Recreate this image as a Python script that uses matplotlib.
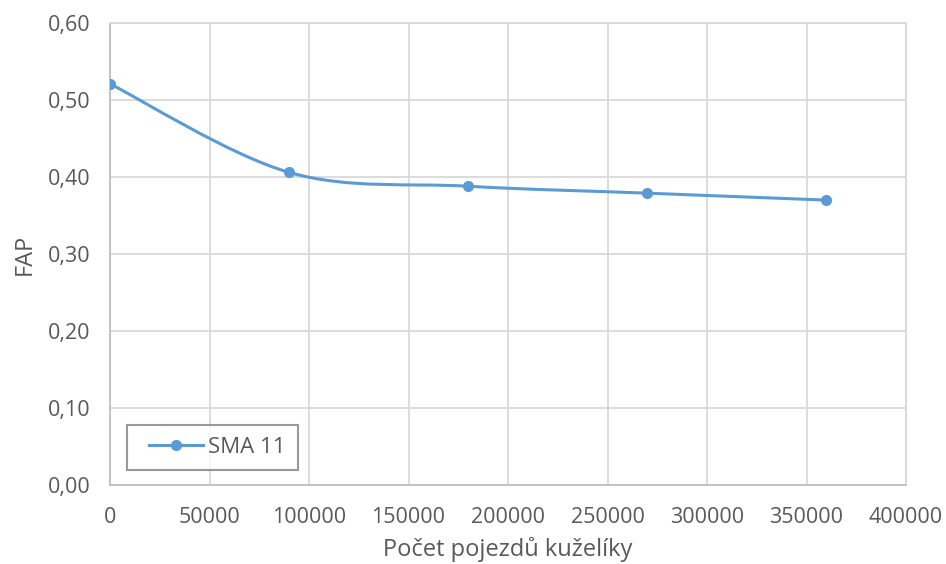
import matplotlib
matplotlib.use('Agg')
import matplotlib.pyplot as plt
from matplotlib.path import Path
from matplotlib.patches import PathPatch
from matplotlib.legend_handler import HandlerLine2D
from matplotlib.ticker import FuncFormatter, MultipleLocator

plt.rcParams['font.family'] = ['Open Sans', 'DejaVu Sans']

# pocet pojezdu vs FAP
rides = [0, 90000, 180000, 270000, 360000]
fap = [0.521, 0.406, 0.388, 0.379, 0.370]
series_name = 'SMA 11'

line_color = '#5b9bd5'
text_color = '#595959'
grid_color = '#d9d9d9'


def smooth_path(xs, ys):
    # Excel-like smoothed line: cubic bezier segments with catmull-rom control points
    pts = list(zip(xs, ys))
    verts = [pts[0]]
    codes = [Path.MOVETO]
    n = len(pts)
    for i in range(n - 1):
        p0 = pts[i - 1] if i > 0 else pts[i]
        p1 = pts[i]
        p2 = pts[i + 1]
        p3 = pts[i + 2] if i + 2 < n else pts[i + 1]
        c1 = (p1[0] + (p2[0] - p0[0]) / 6, p1[1] + (p2[1] - p0[1]) / 6)
        c2 = (p2[0] - (p3[0] - p1[0]) / 6, p2[1] - (p3[1] - p1[1]) / 6)
        verts += [c1, c2, p2]
        codes += [Path.CURVE4] * 3
    return Path(verts, codes)


class PaddedLineHandler(HandlerLine2D):
    # leaves some empty room left of the legend line
    def __init__(self, pad, **kw):
        super().__init__(**kw)
        self.pad = pad

    def create_artists(self, legend, orig_handle, xdescent, ydescent,
                       width, height, fontsize, trans):
        return super().create_artists(legend, orig_handle, xdescent - self.pad,
                                      ydescent, width - self.pad, height,
                                      fontsize, trans)


fig = plt.figure(figsize=(9.46, 5.64), dpi=100)
ax = fig.add_axes([110 / 946, 1 - 485 / 564, 796 / 946, 462 / 564])

ax.add_patch(PathPatch(smooth_path(rides, fap), facecolor='none',
                       edgecolor=line_color, linewidth=2.2, zorder=3))
ax.plot(rides, fap, linestyle='none', marker='o', markersize=7,
        color=line_color, zorder=4)
# legend entry
leg_line, = ax.plot([], [], color=line_color, linewidth=2.2, marker='o',
                    markersize=7, label=series_name)

ax.set_xlim(0, 400000)
ax.set_ylim(0, 0.6)
ax.xaxis.set_major_locator(MultipleLocator(50000))
ax.yaxis.set_major_locator(MultipleLocator(0.1))
ax.yaxis.set_major_formatter(FuncFormatter(lambda v, p: f'{v:.2f}'.replace('.', ',')))
ax.xaxis.set_major_formatter(FuncFormatter(lambda v, p: f'{v:.0f}'))

ax.grid(True, color=grid_color, linewidth=1.3)
ax.set_axisbelow(True)
for s in ax.spines.values():
    s.set_color(grid_color)
    s.set_linewidth(1.3)
ax.spines['left'].set_color('#bfbfbf')
ax.spines['bottom'].set_color('#bfbfbf')

ax.tick_params(length=0, labelsize=15.5, colors=text_color)
ax.tick_params(axis='y', pad=14)
ax.tick_params(axis='x', pad=16)

ax.set_xlabel('Počet pojezdů kuželíky', fontsize=17, color=text_color, labelpad=6)
ax.set_ylabel('FAP', fontsize=17, color=text_color, labelpad=8)

leg = ax.legend(handler_map={leg_line: PaddedLineHandler(7.5)},
                loc='lower left', bbox_to_anchor=(0.021, 0.032), borderaxespad=0,
                fontsize=16, handlelength=2.9, handletextpad=0.2,
                borderpad=0.55, fancybox=False, labelcolor=text_color)
leg.get_frame().set_edgecolor('#808080')
leg.get_frame().set_linewidth(1.5)

fig.savefig('out.png', dpi=100)
